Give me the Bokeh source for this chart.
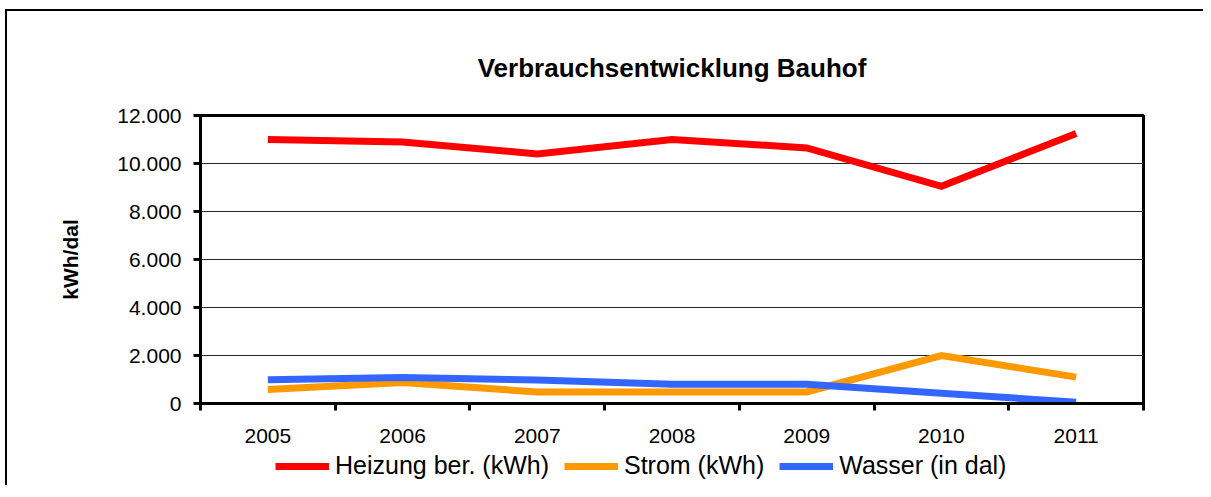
from bokeh.plotting import figure
from bokeh.models import FixedTicker, Legend, LegendItem, Range1d
from bokeh.layouts import column
from bokeh.embed import file_html
from bokeh.resources import INLINE

years = ["2005", "2006", "2007", "2008", "2009", "2010", "2011"]
heizung = [11000, 10900, 10400, 11000, 10650, 9050, 11250]
strom = [580, 870, 480, 480, 480, 2000, 1100]
wasser = [990, 1080, 980, 800, 800, 430, 50]
y_ticks = [0, 2000, 4000, 6000, 8000, 10000, 12000]
y_tick_labels = ["0", "2.000", "4.000", "6.000", "8.000", "10.000", "12.000"]
series_names = ["Heizung ber. (kWh)", "Strom (kWh)", "Wasser (in dal)"]
series_colors = ["#FF0000", "#FF9900", "#3366FF"]

FONT = "Liberation Sans"

x_pos = [i + 0.5 for i in range(len(years))]
bounds = list(range(len(years) + 1))
series = [heizung, strom, wasser]

p = figure(frame_width=943, frame_height=288, output_backend="svg", toolbar_location=None,
           x_range=Range1d(0, len(years)), y_range=Range1d(0, 12000),
           min_border_left=193, min_border_top=104, min_border_right=60,
           min_border_bottom=0)

p.title.text = "Verbrauchsentwicklung Bauhof"
p.title.align = "center"
p.title.offset = -62
p.title.text_font = FONT
p.title.text_font_size = "26px"
p.title.text_font_style = "bold"
p.title.text_color = "black"
p.title.standoff = 66

for vals, col in zip(series, series_colors):
    p.line(x_pos, vals, line_color=col, line_width=7, line_join="miter")

# x axis: boundary ticks (minor) and labels at centres
p.xaxis.ticker = FixedTicker(ticks=x_pos, minor_ticks=bounds)
p.xaxis.major_label_overrides = {x: y for x, y in zip(x_pos, years)}
p.xaxis.major_tick_out = 0
p.xaxis.major_tick_in = 0
p.xaxis.minor_tick_out = 7
p.xaxis.minor_tick_in = 0
p.xaxis.minor_tick_line_color = "black"
p.xaxis.minor_tick_line_width = 3
p.xaxis.major_label_standoff = 18
p.xaxis.major_label_text_font = FONT
p.xaxis.major_label_text_font_size = "21px"
p.xaxis.major_label_text_color = "black"
p.xaxis.axis_line_width = 3
p.xaxis.axis_line_color = "black"

# y axis
p.yaxis.ticker = FixedTicker(ticks=y_ticks)
p.yaxis.major_label_overrides = {t: l for t, l in zip(y_ticks, y_tick_labels)}
p.yaxis.major_tick_out = 7
p.yaxis.major_tick_in = 0
p.yaxis.major_tick_line_width = 3
p.yaxis.major_tick_line_color = "black"
p.yaxis.minor_tick_line_color = None
p.yaxis.major_label_standoff = 12
p.yaxis.major_label_text_font = FONT
p.yaxis.major_label_text_font_size = "21px"
p.yaxis.major_label_text_color = "black"
p.yaxis.axis_line_width = 3
p.yaxis.axis_line_color = "black"
p.yaxis.axis_label = "kWh/dal"
p.yaxis.axis_label_text_font = FONT
p.yaxis.axis_label_text_font_size = "21px"
p.yaxis.axis_label_text_font_style = "bold"
p.yaxis.axis_label_text_color = "black"
p.yaxis.axis_label_standoff = 32

p.xgrid.grid_line_color = None
p.ygrid.grid_line_color = "#222222"
p.ygrid.grid_line_width = 1

p.outline_line_color = "black"
p.outline_line_width = 3
p.outline_line_alpha = 1

# legend strip below the chart (its series lie outside its visible range,
# so only the legend itself shows)
lg = figure(width=1196, height=40, output_backend="svg", toolbar_location=None,
            x_range=Range1d(0, len(years)), y_range=Range1d(-2, -1),
            x_axis_location=None, y_axis_location=None,
            min_border_left=0, min_border_right=0, min_border_top=0, min_border_bottom=0)
lg.outline_line_color = None
lg.grid.visible = False
legend_renderers = [lg.line(x_pos, vals, line_color=c, line_width=7)
                    for vals, c in zip(series, series_colors)]

legend = Legend(items=[LegendItem(label=n, renderers=[r]) for n, r in zip(series_names, legend_renderers)],
                orientation="horizontal", location=(75, 5))
legend.label_text_font = FONT
legend.label_text_font_size = "25px"
legend.label_text_color = "black"
legend.glyph_width = 54
legend.glyph_height = 20
legend.label_standoff = 6
legend.spacing = 15
legend.padding = 0
legend.margin = 0
legend.border_line_color = None
legend.background_fill_alpha = 0
lg.add_layout(legend, "center")

layout = column(p, lg, spacing=0)
layout.styles = {"border-left": "2px solid black", "border-top": "2px solid black",
                 "margin-left": "5px", "margin-top": "9px"}

open("out.html", "w").write(file_html(layout, INLINE))
